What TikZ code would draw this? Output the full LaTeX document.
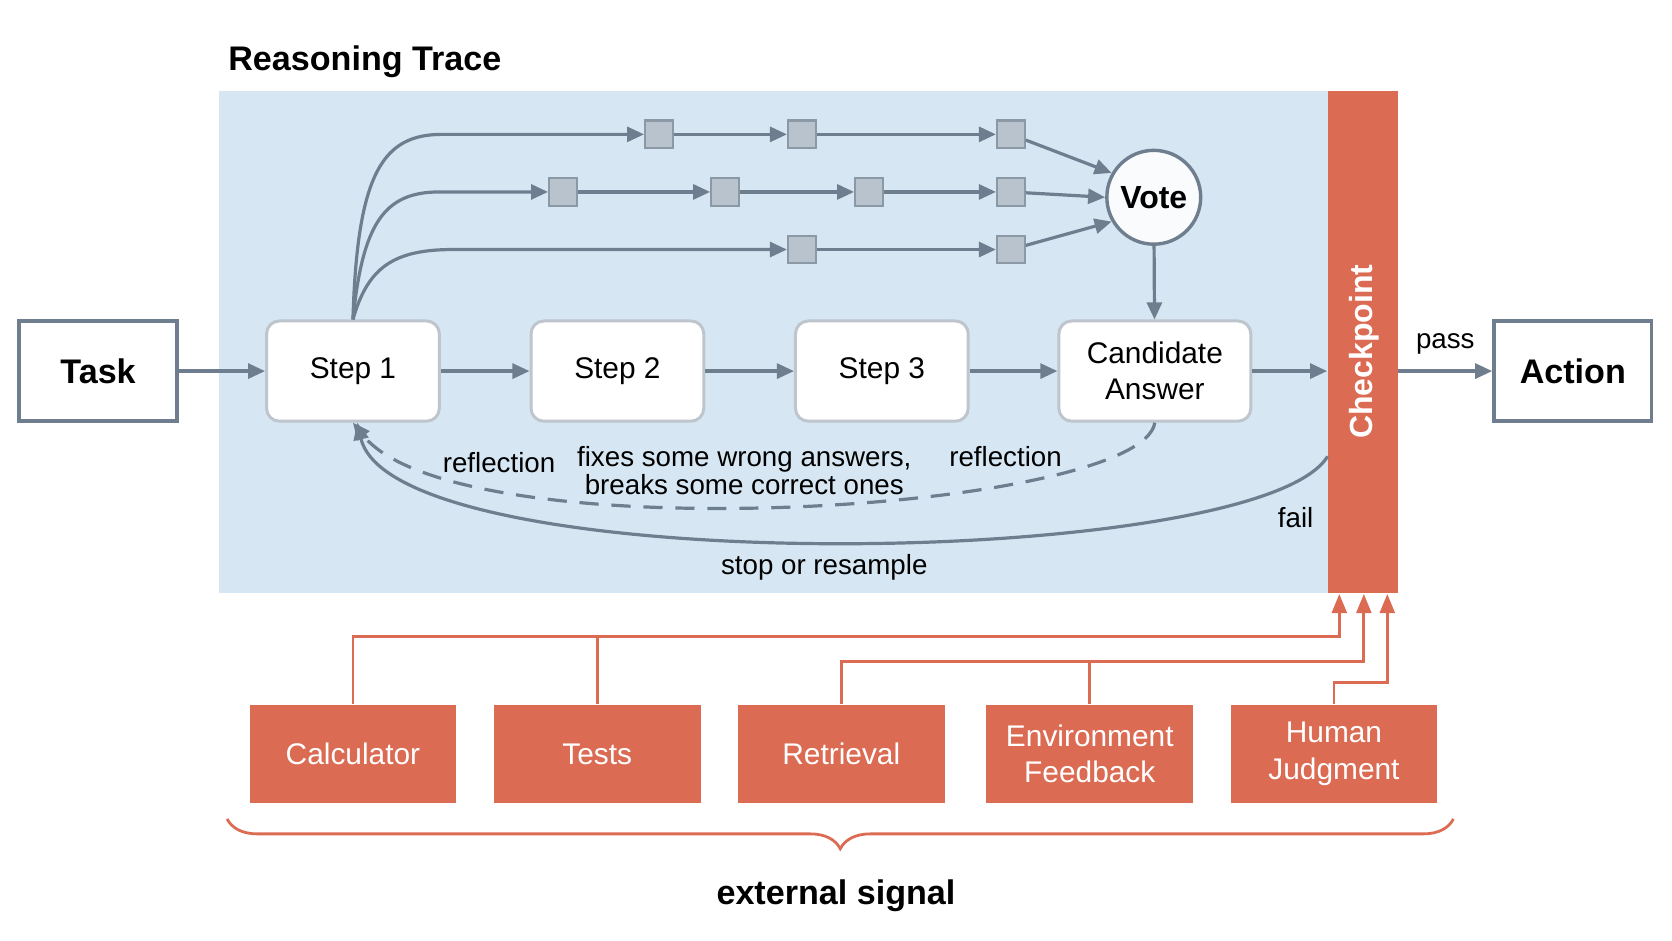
\documentclass[tikz,border=0pt]{standalone}
\usepackage{fontspec}
\setmainfont{Liberation Sans}
\usetikzlibrary{positioning,arrows.meta,decorations.pathreplacing}
\definecolor{trace}{HTML}{D6E7F3}
\definecolor{edge}{HTML}{6E7E8F}
\definecolor{signal}{HTML}{DB6B52}
\definecolor{tok}{HTML}{B9C3CD}
\begin{document}
\begin{tikzpicture}[x=0.5pt,y=-0.5pt,
			io/.style={draw=edge,line width=1.6pt,fill=white,minimum width=74pt,minimum height=47pt,font=\fontsize{16}{18}\selectfont\bfseries},
			stepbox/.style={draw=edge!45,line width=1.4pt,fill=white,rounded corners=6pt,minimum width=81pt,minimum height=47pt,font=\fontsize{14}{17}\selectfont,align=center},
			tok/.style={draw=edge!80,line width=1pt,fill=tok,minimum size=13pt,inner sep=0pt},
			src/.style={fill=signal,text=white,minimum width=97pt,minimum height=46pt,font=\fontsize{14}{17}\selectfont,align=center},
			arr/.style={draw=edge,line width=1.5pt,-{Triangle[length=8pt,width=7pt]}},
			sig/.style={draw=signal,line width=1.3pt,-{Triangle[length=9pt,width=7pt]}},
			lbl/.style={font=\fontsize{13}{15}\selectfont,align=center}]
	\useasboundingbox (0,0) rectangle (1568,882);
	% trace area
	\fill[trace] (205,85) rectangle (1245,556);
	\node[anchor=west,font=\fontsize{16}{18}\selectfont\bfseries] at (207,58) {Reasoning Trace};
	\node (check) [fill=signal,minimum width=33pt,minimum height=235.5pt,inner sep=0pt] at (1278,320.5) {};
	\node[rotate=90,text=white,font=\fontsize{15}{17}\selectfont\bfseries] at (1279,330) {Checkpoint};
	% main chain
	\node (task) [io] at (92,348) {Task};
	\node (act) [io] at (1475,348) {Action};
	\node (s1) [stepbox] at (331,348) {Step 1};
	\node (s2) [stepbox] at (579,348) {Step 2};
	\node (s3) [stepbox] at (827,348) {Step 3};
	\node (cand) [stepbox,minimum width=90pt] at (1083,348) {Candidate\\Answer};
	\node (vote) [circle,draw=edge,line width=1.6pt,fill=white!85!trace,minimum size=44pt,inner sep=0pt,font=\fontsize{15}{17}\selectfont\bfseries] at (1082,185) {Vote};
	\draw[arr] (task) -- (s1);
	\draw[arr] (s1) -- (s2);
	\draw[arr] (s2) -- (s3);
	\draw[arr] (s3) -- (cand);
	\draw[arr] (cand) -- (cand -| check.west);
	\draw[arr] (check.east |- act) -- node[above,lbl,yshift=4pt] {pass} (act);
	\draw[arr] (vote) -- (cand);
	% sampled paths
	\node (a1) [tok] at (618,126) {};
	\node (a2) [tok] at (752,126) {};
	\node (a3) [tok] at (948,126) {};
	\node (b1) [tok] at (528,180) {};
	\node (b2) [tok] at (680,180) {};
	\node (b3) [tok] at (815,180) {};
	\node (b4) [tok] at (948,180) {};
	\node (c1) [tok] at (752,234) {};
	\node (c2) [tok] at (948,234) {};
	\draw[arr] (s1.north) .. controls (335,160) and (360,126) .. (415,126) -- (a1);
	\draw[arr] (s1.north) .. controls (340,210) and (360,180) .. (412,180) -- (b1);
	\draw[arr] (s1.north) .. controls (345,250) and (370,234) .. (425,234) -- (c1);
	\draw[arr] (a1) -- (a2);
	\draw[arr] (a2) -- (a3);
	\draw[arr] (b1) -- (b2);
	\draw[arr] (b2) -- (b3);
	\draw[arr] (b3) -- (b4);
	\draw[arr] (c1) -- (c2);
	\draw[arr] (a3) -- (vote.150);
	\draw[arr] (b4) -- (vote.180);
	\draw[arr] (c2) -- (vote.210);
	% feedback loops
	\coordinate (failpt) at (1245,428);
	\draw[arr,dashed,dash pattern=on 9pt off 6pt] (cand.south) .. controls (1070,480) and (430,520) .. (s1.south);
	\draw[arr] (failpt) .. controls (1180,535) and (370,545) .. ([xshift=2pt]s1.south);
	\node[lbl] at (468,434) {reflection};
	\node[lbl] at (698,441) {fixes some wrong answers,\\[-2pt]breaks some correct ones};
	\node[lbl] at (943,428) {reflection};
	\node[lbl] at (1215,485) {fail};
	\node[lbl] at (773,532) {stop or resample};
	% external signals
	\node (calc) [src] at (331,707) {Calculator};
	\node (tests) [src] at (560,707) {Tests};
	\node (retr) [src] at (789,707) {Retrieval};
	\node (env) [src] at (1022,707) {Environment\\Feedback};
	\node (hum) [src] at (1251,707) {Human\\Judgment};
	\draw[sig] (calc.north) |- (1256,597) -- (1256,557);
	\draw[signal,line width=1.3pt] (tests.north) -- (560,597);
	\draw[sig] (retr.north) |- (1279,620) -- (1279,557);
	\draw[signal,line width=1.3pt] (env.north) -- (1022,620);
	\draw[sig] (hum.north) |- (1301,640) -- (1301,557);
	\draw[signal,line width=1.3pt,decorate,decoration={brace,mirror,amplitude=14pt}] (213,768) -- (1363,768);
	\node[font=\fontsize{16}{18}\selectfont\bfseries] at (784,840) {external signal};
\end{tikzpicture}
\end{document}
